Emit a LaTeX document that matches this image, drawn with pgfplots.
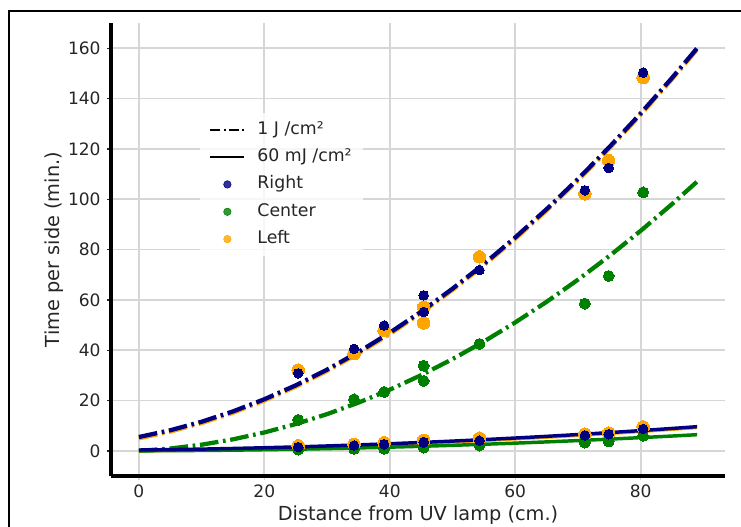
\documentclass[border=0pt]{standalone}
\usepackage{fontspec}
\setmainfont{DejaVu Sans}
\usepackage{pgfplots}
\pgfplotsset{compat=1.18}
\usepackage{pgfplotstable}
\definecolor{navy}{RGB}{0,0,128}
\definecolor{mgreen}{RGB}{0,128,0}
\definecolor{morange}{RGB}{255,165,0}
\definecolor{gridgray}{RGB}{214,214,214}
\definecolor{txt}{RGB}{38,38,38}

\pgfplotstableread{
x r1 g1 r60 g60
0 5.50 0.00 0.33 0.00
5 8.18 0.92 0.49 0.06
10 11.57 2.44 0.69 0.15
15 15.68 4.57 0.94 0.27
20 20.50 7.30 1.23 0.44
25 26.03 10.64 1.56 0.64
30 32.28 14.59 1.94 0.88
35 39.25 19.14 2.36 1.15
40 46.92 24.30 2.82 1.46
45 55.32 30.07 3.32 1.80
50 64.43 36.45 3.87 2.19
55 74.25 43.43 4.46 2.61
60 84.78 51.01 5.09 3.06
65 96.04 59.21 5.76 3.55
70 108.00 68.01 6.48 4.08
75 120.68 77.41 7.24 4.64
80 134.08 87.42 8.04 5.25
85 148.19 98.04 8.89 5.88
89 159.99 106.98 9.60 6.42
}\curves

\pgfplotstableread{
x R C L R60 C60 L60
25.4 30.8 12.3 32.1 1.5 0.5 2.0
34.3 40.5 20.5 38.6 2.1 0.8 2.6
39.1 49.8 23.4 47.8 2.6 0.8 3.2
45.4 61.8 33.8 57.1 3.3 1.3 4.0
45.4 55.2 27.8 50.8 3.5 1.5 4.2
54.3 71.8 42.5 77.1 4.0 2.1 5.0
71.1 103.5 58.5 102.1 6.1 3.3 6.6
74.9 112.4 69.5 115.3 6.6 3.7 7.0
80.4 150.3 102.7 148.3 8.7 6.0 9.5
}\points

\tikzset{dd/.style={dash pattern=on 14pt off 3.5pt on 2pt off 3.5pt}}

\begin{document}
\begin{tikzpicture}
\path[use as bounding box] (0,0) rectangle (555.75pt,394.5pt);
\draw[line width=1.5pt] (6.75pt,-5pt) -- (6.75pt,386.6pt) -- (560pt,386.6pt);
\begin{axis}[
  at={(83.25pt,37.5pt)}, anchor=south west, scale only axis,
  width=460.5pt, height=339.75pt,
  xmin=-4.45, xmax=93.45, ymin=-10, ymax=170,
  axis x line*=bottom, axis y line*=left,
  axis line style={line width=2.6pt, black},
  xtick={0,20,40,60,80}, ytick={0,20,...,160},
  grid=major, major grid style={gridgray, line width=1.3pt},
  tick align=outside, major tick length=3pt,
  x tick style={gridgray, line width=1pt},
  y tick style={txt, line width=1pt},
  /pgf/number format/assume math mode=true,
  ticklabel style={font=\fontsize{12.8}{15}\selectfont, text=txt},
  xticklabel style={inner sep=0pt, anchor=north, yshift=-3.75pt},
  yticklabel style={inner sep=0pt, anchor=east, xshift=-4.6pt},
  xlabel={Distance from UV lamp (cm.)},
  ylabel={Time per side (min.)},
  label style={font=\fontsize{14.5}{17}\selectfont, text=txt},
  xlabel style={at={(axis description cs:0.5,-0.0993)}, anchor=base},
  ylabel style={at={(axis description cs:-0.0928,0.5)}, anchor=center},
  legend cell align=left,
  legend style={at={(axis description cs:0.145,0.8024)}, anchor=north west,
    draw=none, fill=white, fill opacity=0.8, text opacity=1,
    font=\fontsize{13}{15.6}\selectfont, text=txt,
    inner xsep=6.75pt, inner ysep=2.5pt, column sep=7pt,
    nodes={text height=9.5pt, text depth=3pt, inner ysep=4pt}},
]
\addplot[morange, line width=3.2pt, dd, yshift=-1pt, forget plot] table[x=x,y=r1]{\curves};
\addplot[navy, line width=3.2pt, dd, forget plot] table[x=x,y=r1]{\curves};
\addplot[mgreen, line width=3.2pt, dd, forget plot] table[x=x,y=g1]{\curves};
\addplot[morange, line width=2.6pt, yshift=-0.6pt, forget plot] table[x=x,y=r60]{\curves};
\addplot[mgreen, line width=2.6pt, forget plot] table[x=x,y=g60]{\curves};
\addplot[navy, line width=2.6pt, forget plot] table[x=x,y=r60]{\curves};

\addplot[morange, only marks, mark=*, mark size=4.7pt, mark options={fill=morange, draw=morange, line width=0pt}, forget plot] table[x=x,y=L]{\points};
\addplot[morange, only marks, mark=*, mark size=4.7pt, mark options={fill=morange, draw=morange, line width=0pt}, forget plot] table[x=x,y=L60]{\points};
\addplot[mgreen, only marks, mark=*, mark size=4.1pt, mark options={fill=mgreen, draw=mgreen, line width=0pt}, forget plot] table[x=x,y=C]{\points};
\addplot[mgreen, only marks, mark=*, mark size=4.1pt, mark options={fill=mgreen, draw=mgreen, line width=0pt}, forget plot] table[x=x,y=C60]{\points};
\addplot[navy, only marks, mark=*, mark size=3.6pt, mark options={fill=navy, draw=navy, line width=0pt}, forget plot] table[x=x,y=R]{\points};
\addplot[navy, only marks, mark=*, mark size=3.6pt, mark options={fill=navy, draw=navy, line width=0pt}, forget plot] table[x=x,y=R60]{\points};

\addlegendimage{legend image code/.code={\draw[black, line width=1.6pt, dash pattern=on 7.5pt off 2.5pt on 1.5pt off 2.5pt] (0pt,0pt) -- (25.5pt,0pt);}}
\addlegendentry{1 J /cm²}
\addlegendimage{legend image code/.code={\draw[black, line width=1.6pt] (0pt,0pt) -- (25.5pt,0pt);}}
\addlegendentry{60 mJ /cm²}
\addlegendimage{legend image code/.code={\fill[navy] (12.75pt,0pt) circle (2.8pt);}}
\addlegendentry{Right}
\addlegendimage{legend image code/.code={\fill[mgreen] (12.75pt,0pt) circle (2.8pt);}}
\addlegendentry{Center}
\addlegendimage{legend image code/.code={\fill[morange] (12.75pt,0pt) circle (2.8pt);}}
\addlegendentry{Left}
\end{axis}
\end{tikzpicture}
\end{document}
